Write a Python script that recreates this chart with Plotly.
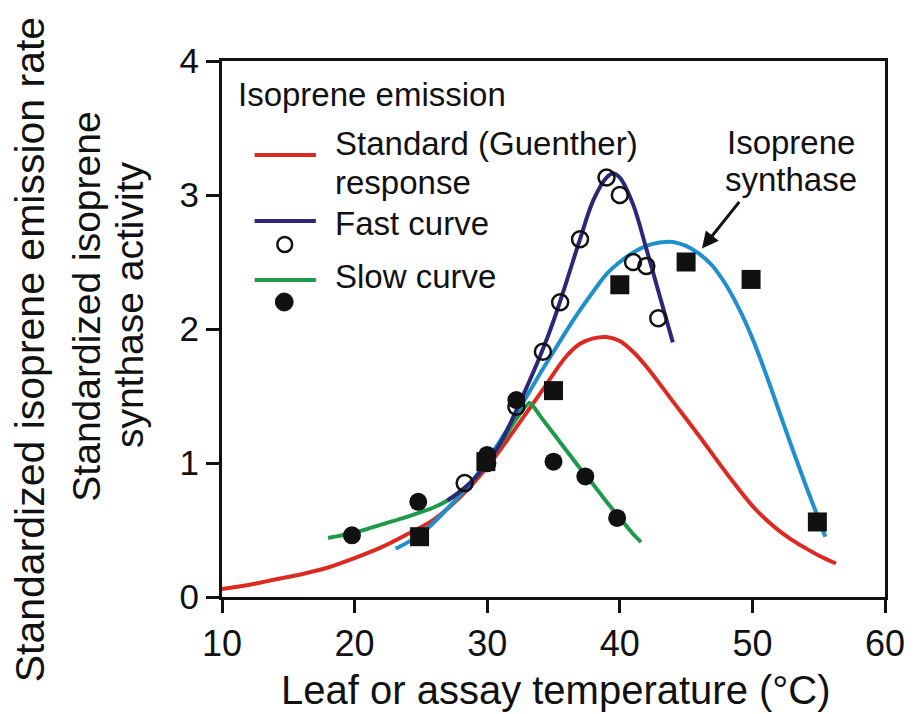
import plotly.graph_objects as go

# ---------------- data ----------------
# Standard (Guenther) response curve
std_x = [10, 12, 14, 16, 18, 20, 22, 24, 26, 28, 30, 32, 34, 36, 37, 38, 39, 40, 41, 42, 44, 46, 48, 50, 51, 52, 53, 54, 55, 56.3]
std_y = [0.06, 0.09, 0.13, 0.17, 0.22, 0.29, 0.37, 0.47, 0.58, 0.75, 0.97, 1.24, 1.52, 1.80, 1.89, 1.93, 1.94, 1.91, 1.83, 1.72, 1.46, 1.20, 0.93, 0.68, 0.58, 0.495, 0.425, 0.365, 0.31, 0.25]

# Fast curve
fast_x = [27, 28, 29, 30, 31, 32, 33, 34, 35, 36, 37, 38, 39, 39.5, 40, 41, 42, 43, 44]
fast_y = [0.72, 0.79, 0.88, 1.00, 1.15, 1.35, 1.57, 1.80, 2.06, 2.36, 2.67, 2.96, 3.13, 3.16, 3.13, 2.93, 2.60, 2.25, 1.90]

# Slow curve
slow_x = [18, 20, 22, 24, 26, 27, 28, 29, 30, 31, 32, 33.2, 34, 35, 36, 37, 38, 39, 40, 41, 41.6]
slow_y = [0.44, 0.48, 0.54, 0.60, 0.67, 0.72, 0.79, 0.88, 1.00, 1.14, 1.30, 1.45, 1.35, 1.22, 1.09, 0.96, 0.84, 0.71, 0.59, 0.47, 0.41]

# Isoprene synthase curve
ips_x = [23.1, 25, 27, 29, 30, 31, 32, 33, 34, 35, 36, 37, 38, 39, 40, 41, 42, 43, 44, 45, 46, 47, 48, 49, 50, 51, 52, 53, 54, 55, 55.5]
ips_y = [0.36, 0.47, 0.66, 0.88, 1.02, 1.17, 1.33, 1.50, 1.67, 1.83, 1.99, 2.14, 2.28, 2.41, 2.50, 2.57, 2.62, 2.645, 2.65, 2.62, 2.56, 2.47, 2.33, 2.15, 1.93, 1.67, 1.39, 1.11, 0.84, 0.58, 0.45]

# Observations
fast_pts_x = [28.3, 30.0, 32.2, 34.2, 35.5, 37.0, 39.0, 40.0, 41.0, 42.0, 42.9]
fast_pts_y = [0.85, 1.00, 1.42, 1.83, 2.20, 2.67, 3.13, 3.00, 2.50, 2.47, 2.08]

slow_pts_x = [19.8, 24.8, 30.0, 32.2, 35.0, 37.4, 39.8]
slow_pts_y = [0.46, 0.71, 1.06, 1.47, 1.01, 0.90, 0.59]

ips_pts_x = [24.9, 29.9, 35.0, 40.0, 45.0, 49.9, 54.9]
ips_pts_y = [0.45, 1.01, 1.54, 2.33, 2.50, 2.37, 0.56]

x_ticks = [10, 20, 30, 40, 50, 60]
y_ticks = [0, 1, 2, 3, 4]

# ---------------- styling ----------------
RED = "#dc2a22"
NAVY = "#2c2878"
LBLUE = "#1f8fcd"
GREEN = "#1e9a4c"
INK = "#111111"
FONT = "Liberation Sans, Arial, sans-serif"

W, H = 917, 714
L, R, T, B = 222, 893, 61, 597


def px(x):
    return (x - L) / (R - L)


def py(y):
    return (B - y) / (B - T)


fig = go.Figure()

fig.add_trace(go.Scatter(x=std_x, y=std_y, mode="lines",
                         line=dict(color=RED, width=4, shape="spline"), showlegend=False))
fig.add_trace(go.Scatter(x=ips_x, y=ips_y, mode="lines",
                         line=dict(color=LBLUE, width=4, shape="spline"), showlegend=False))
fig.add_trace(go.Scatter(x=slow_x, y=slow_y, mode="lines",
                         line=dict(color=GREEN, width=4, shape="spline", smoothing=0.5), showlegend=False))
fig.add_trace(go.Scatter(x=fast_x, y=fast_y, mode="lines",
                         line=dict(color=NAVY, width=4, shape="spline"), showlegend=False))

fig.add_trace(go.Scatter(x=slow_pts_x, y=slow_pts_y, mode="markers",
                         marker=dict(symbol="circle", size=18, color=INK), showlegend=False))
fig.add_trace(go.Scatter(x=ips_pts_x, y=ips_pts_y, mode="markers",
                         marker=dict(symbol="square", size=19, color=INK), showlegend=False))
fig.add_trace(go.Scatter(x=fast_pts_x, y=fast_pts_y, mode="markers",
                         marker=dict(symbol="circle-open", size=16, color=INK,
                                     line=dict(width=2.5, color=INK)), showlegend=False))

axis_common = dict(showgrid=False, zeroline=False, showline=True, linecolor=INK, linewidth=3,
                   mirror=True, ticks="outside", ticklen=13, tickwidth=3, tickcolor=INK)

fig.update_layout(
    width=W, height=H,
    margin=dict(l=L, r=W - R, t=T, b=H - B),
    paper_bgcolor="white", plot_bgcolor="white",
    font=dict(family=FONT, color=INK),
    xaxis=dict(range=[10, 60], tickvals=x_ticks, tickfont=dict(size=36, family=FONT, color=INK),
               **axis_common),
    yaxis=dict(range=[0, 4], tickvals=y_ticks, tickfont=dict(size=35, family=FONT, color=INK),
               **axis_common),
    showlegend=False,
)

# ---------------- custom legend ----------------
shapes = []
for ycen, col in [(155, RED), (221, NAVY), (280, GREEN)]:
    shapes.append(dict(type="line", xref="paper", yref="paper",
                       x0=px(255), x1=px(317), y0=py(ycen), y1=py(ycen),
                       line=dict(color=col, width=4)))
# open circle symbol (fast)
shapes.append(dict(type="circle", xref="paper", yref="paper",
                   x0=px(278), x1=px(293), y0=py(252), y1=py(237),
                   line=dict(color=INK, width=2.5), fillcolor="rgba(0,0,0,0)"))
# filled circle symbol (slow)
shapes.append(dict(type="circle", xref="paper", yref="paper",
                   x0=px(276), x1=px(294), y0=py(311), y1=py(293),
                   line=dict(color=INK, width=1), fillcolor=INK))
fig.update_layout(shapes=shapes)

ann = []


def text(x, y, s, size=33, xanchor="left", angle=0):
    ann.append(dict(x=px(x), y=py(y), xref="paper", yref="paper", text=s, showarrow=False,
                    xanchor=xanchor, yanchor="middle", textangle=angle,
                    font=dict(size=size, family=FONT, color=INK)))


text(236, 94, "Isoprene emission")
text(334, 143, "Standard (Guenther)")
text(334, 182, "response")
text(334, 224, "Fast curve")
text(334, 276, "Slow curve")

# Isoprene synthase label and arrow
text(798, 142, "Isoprene", xanchor="center")
text(798, 179, "synthase", xanchor="center")
ann.append(dict(x=46.2, y=2.60, xref="x", yref="y", ax=49.1, ay=2.96, axref="x", ayref="y",
                text="", showarrow=True, arrowhead=2, arrowsize=1.1, arrowwidth=3, arrowcolor=INK))

# axis titles
text(560, 690, "Leaf or assay temperature (°C)", size=40, xanchor="center")
text(28, 349, "Standardized isoprene emission rate", size=41, xanchor="center", angle=-90)
text(84, 307, "Standardized isoprene", size=39, xanchor="center", angle=-90)
text(128, 305, "synthase activity", size=39, xanchor="center", angle=-90)

fig.update_layout(annotations=ann)

fig.write_html("out.html")
